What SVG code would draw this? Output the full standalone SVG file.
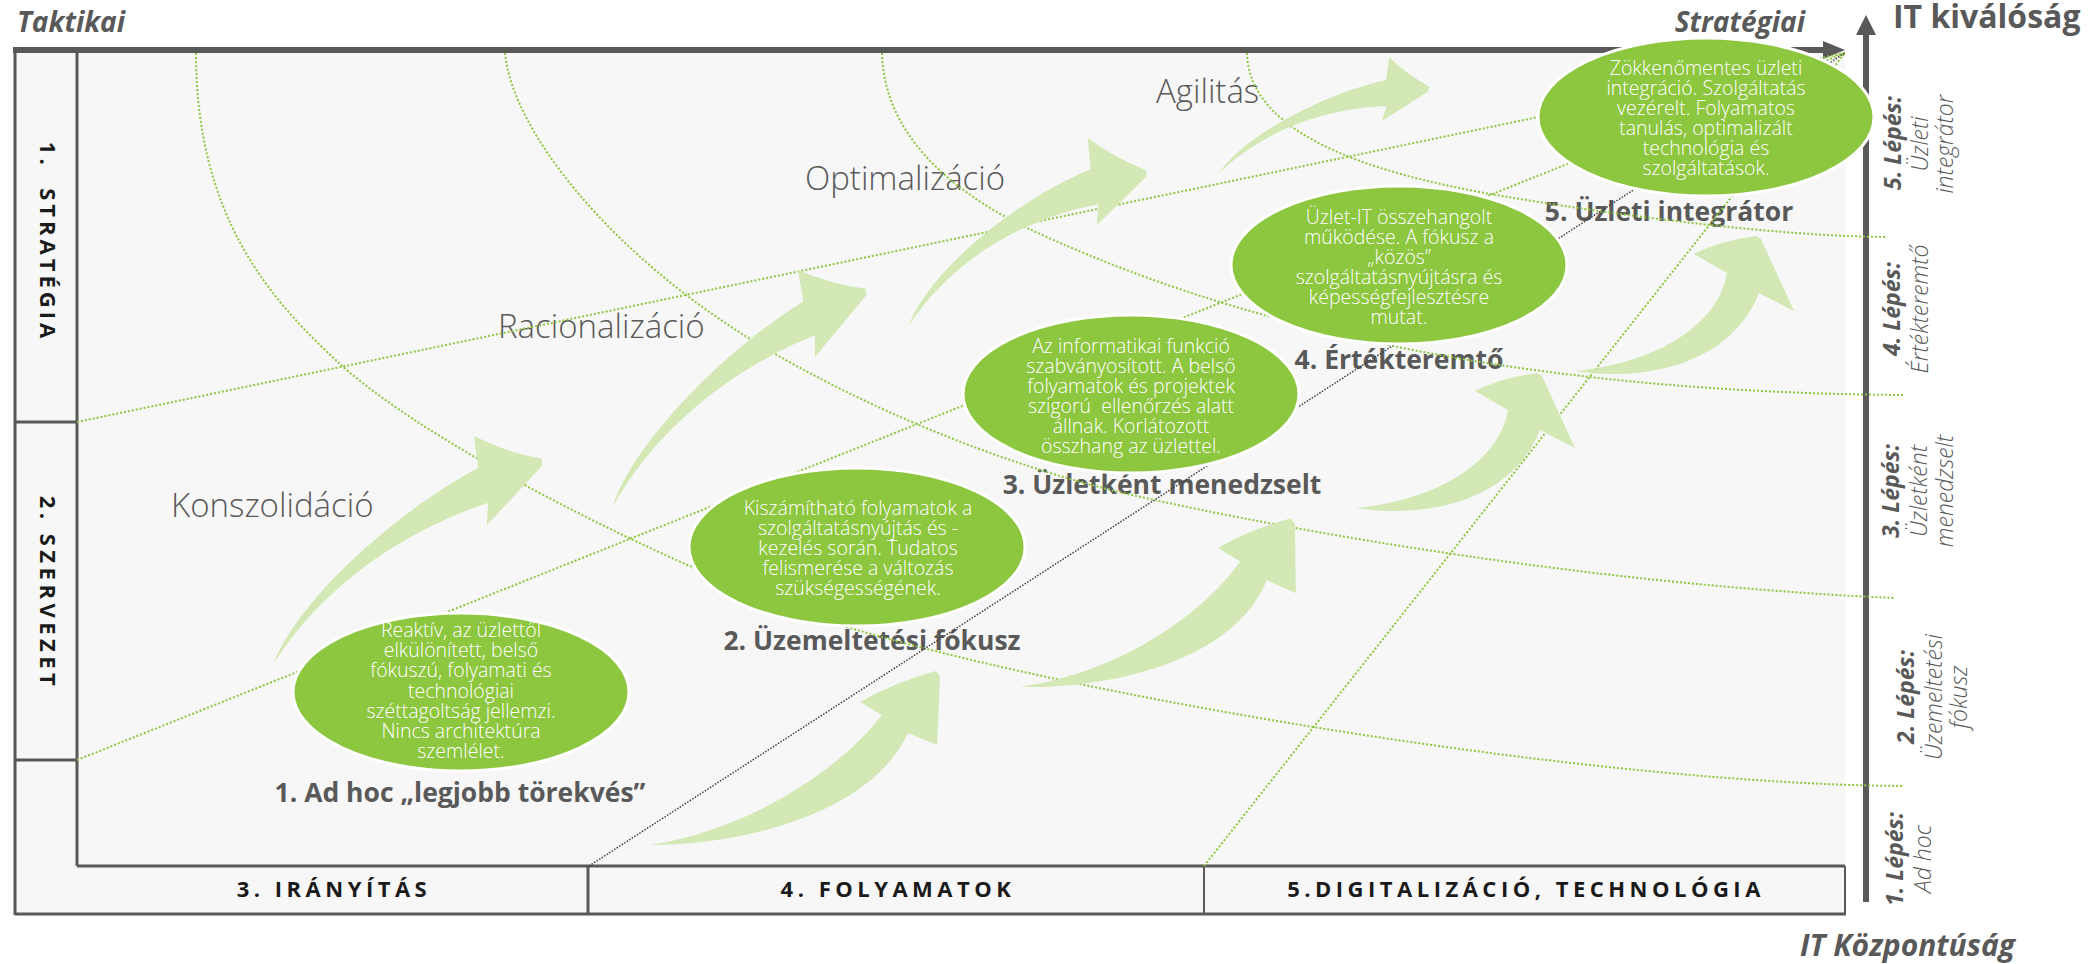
<svg xmlns="http://www.w3.org/2000/svg" width="2098" height="964" viewBox="0 0 2098 964">
<defs>
<style>
text{font-family:"Open Sans","Liberation Sans",sans-serif}
.fr{stroke:#595959;stroke-width:3;fill:none}
.ax{stroke:#595959;stroke-width:6;fill:none}
.axh{fill:#595959}
.dot{stroke:#8dc63f;stroke-width:2;fill:none;stroke-dasharray:2 2}
.blk{stroke:#404040;stroke-width:1.5;fill:none;stroke-dasharray:1.5 1.5}
.arr{fill:#d3e8b4}
.ell{fill:#8dc63f;stroke:#ffffff;stroke-width:3}
.et{font-size:19.5px;font-weight:300;fill:#ffffff;text-anchor:middle}
.lbl{font-size:26.5px;font-weight:700;fill:#595959;text-anchor:middle}
.ph{font-size:33px;font-weight:300;fill:#595959}
.col{font-size:22px;font-weight:700;fill:#1a1a1a;letter-spacing:4.5px;text-anchor:middle}
.ttl{font-size:28px;font-weight:700;font-style:italic;fill:#595959}
.stp{font-size:23px;font-weight:300;font-style:italic;fill:#595959;text-anchor:middle}
.stb{font-weight:700}
</style>
<path id="upA" d="M274,663 C295,605 390,515 478,468 L474,436 Q505,452 542,459 L542,466 L487,525 L488,503 C420,525 330,575 274,663 Z"/>
<path id="loA" d="M650,845 C740,845 870,815 908,733 L937,745 L940,676 L936,671 Q895,682 860,702 L882,715 C835,775 745,830 650,845 Z"/>
<path id="loB" d="M1356,508 C1420,518 1510,505 1540,430 L1575,448 L1542,376 L1537,373 Q1500,378 1475,391 L1508,410 C1500,460 1440,500 1356,508 Z"/>
</defs>

<g id="frame">
<rect x="15" y="50" width="1830" height="864" fill="#f7f7f7"/>
<line class="fr" x1="15" y1="50" x2="15" y2="915"/>
<line class="fr" x1="77" y1="50" x2="77" y2="866"/>
<line class="fr" x1="15" y1="422" x2="77" y2="422"/>
<line class="fr" x1="15" y1="760" x2="77" y2="760"/>
<line class="fr" x1="77" y1="866" x2="1845" y2="866"/>
<line class="fr" x1="15" y1="914" x2="1846" y2="914"/>
<line class="fr" x1="1845" y1="866" x2="1845" y2="914" style="stroke-width:2"/>
<line class="fr" x1="588" y1="866" x2="588" y2="914"/>
<line class="fr" x1="1204" y1="866" x2="1204" y2="914" style="stroke-width:2"/>
<line class="ax" x1="13" y1="50" x2="1828" y2="50"/>
<polygon class="axh" points="1823,41 1845,50 1823,59"/>
<line class="ax" x1="1866" y1="33" x2="1866" y2="902"/>
<polygon class="axh" points="1856,35 1866,15 1876,35"/>
</g>

<g id="axis-labels">
<text class="ttl" x="17" y="32">Taktikai</text>
<text class="ttl" x="1805" y="32" text-anchor="end">Stratégiai</text>
<text x="1893" y="28" style="font-size:32px;font-weight:700;fill:#595959">IT kiválóság</text>
<text class="ttl" x="2015" y="956" text-anchor="end" style="font-size:30px">IT Központúság</text>
<text class="col" transform="rotate(90)" x="242" y="-40" xml:space="preserve" style="letter-spacing:4px">1.  STRATÉGIA</text>
<text class="col" transform="rotate(90)" x="593" y="-40">2. SZERVEZET</text>
<text class="col" x="334" y="897">3. IRÁNYÍTÁS</text>
<text class="col" x="898" y="897">4. FOLYAMATOK</text>
<text class="col" x="1526" y="897">5.DIGITALIZÁCIÓ, TECHNOLÓGIA</text>
</g>

<g id="steps">
<text class="stp" transform="rotate(-90)"><tspan class="stb" x="-143" y="1901">5. Lépés:</tspan><tspan x="-144" y="1928">Üzleti</tspan><tspan x="-144" y="1953">integrátor</tspan></text>
<text class="stp" transform="rotate(-90)"><tspan class="stb" x="-309" y="1900">4. Lépés:</tspan><tspan x="-309" y="1928">Értékteremtő</tspan></text>
<text class="stp" transform="rotate(-90)"><tspan class="stb" x="-491" y="1899">3. Lépés:</tspan><tspan x="-491" y="1927">Üzletként</tspan><tspan x="-491" y="1953">menedzselt</tspan></text>
<text class="stp" transform="rotate(-90)"><tspan class="stb" x="-697" y="1914">2. Lépés:</tspan><tspan x="-697" y="1942">Üzemeltetési</tspan><tspan x="-697" y="1967">fókusz</tspan></text>
<text class="stp" transform="rotate(-90)"><tspan class="stb" x="-859" y="1903">1. Lépés:</tspan><tspan x="-859" y="1931">Ad hoc</tspan></text>
</g>

<g id="phases">
<text class="ph" x="171" y="517">Konszolidáció</text>
<text class="ph" x="498" y="338">Racionalizáció</text>
<text class="ph" x="805" y="190">Optimalizáció</text>
<text class="ph" x="1156" y="103">Agilitás</text>
</g>

<g id="labels">
<text class="lbl" x="460" y="802">1. Ad hoc „legjobb törekvés”</text>
<text class="lbl" x="872" y="650">2. Üzemeltetési fókusz</text>
<text class="lbl" x="1162" y="494">3. Üzletként menedzselt</text>
<text class="lbl" x="1399" y="369">4. Értékteremtő</text>
<text class="lbl" x="1669" y="221">5. Üzleti integrátor</text>
</g>

<g id="connectors">
<path class="dot" d="M196,53 C196,215 269,299 339,363 C439,455 720,590 857,630 C1104,702 1600,784 1903,786"/>
<path class="dot" d="M505,53 C512,130 610,255 760,345 C860,405 1000,465 1132,495 C1300,533 1600,585 1894,598"/>
<path class="dot" d="M882,53 C884,140 960,195 1025,227 C1180,300 1450,392 1903,395"/>
<path class="dot" d="M1247,53 C1249,140 1388,177 1508,197 C1628,217 1780,236 1885,237"/>
<line class="dot" x1="77" y1="422" x2="1845" y2="53"/>
<line class="dot" x1="77" y1="760" x2="1845" y2="53"/>
<line class="dot" x1="1204" y1="866" x2="1845" y2="53"/>
<line class="blk" x1="589" y1="866" x2="1845" y2="53"/>
</g>

<g id="arrows">
<use href="#upA" class="arr"/>
<use href="#upA" class="arr" transform="matrix(0.979,-0.0605,0.048,0.986,313,-131.1)"/>
<use href="#upA" class="arr" transform="matrix(0.866,0.1497,-0.0254,0.9557,688.5,-349.6)"/>
<use href="#upA" class="arr" transform="matrix(0.6526,0.2026,-0.174,0.6895,1155.6,-339.6)"/>
<use href="#loA" class="arr"/>
<use href="#loA" class="arr" transform="matrix(0.981,0.0229,0.0566,1.0056,334.5,-177.6)"/>
<use href="#loB" class="arr"/>
<use href="#loB" class="arr" transform="translate(219,-137)"/>
</g>

<g id="node1">
<ellipse class="ell" cx="461" cy="692" rx="168" ry="79"/>
<text class="et"><tspan x="461" y="637">Reaktív, az üzlettől</tspan><tspan x="461" y="657.2">elkülönített, belső</tspan><tspan x="461" y="677.4">fókuszú, folyamati és</tspan><tspan x="461" y="697.6">technológiai</tspan><tspan x="461" y="717.8">széttagoltság jellemzi.</tspan><tspan x="461" y="738">Nincs architektúra</tspan><tspan x="461" y="758.2">szemlélet.</tspan></text>
</g>
<g id="node2">
<ellipse class="ell" cx="857" cy="547" rx="168" ry="79"/>
<text class="et"><tspan x="858" y="515">Kiszámítható folyamatok a</tspan><tspan x="858" y="535">szolgáltatásnyújtás és -</tspan><tspan x="858" y="555">kezelés során. Tudatos</tspan><tspan x="858" y="575">felismerése a változás</tspan><tspan x="858" y="595">szükségességének.</tspan></text>
</g>
<g id="node3">
<ellipse class="ell" cx="1131" cy="394" rx="168" ry="79"/>
<text class="et" xml:space="preserve"><tspan x="1131" y="353">Az informatikai funkció</tspan><tspan x="1131" y="373">szabványosított. A belső</tspan><tspan x="1131" y="393">folyamatok és projektek</tspan><tspan x="1131" y="413">szigorú  ellenőrzés alatt</tspan><tspan x="1131" y="433">állnak. Korlátozott</tspan><tspan x="1131" y="453">összhang az üzlettel.</tspan></text>
</g>
<g id="node4">
<ellipse class="ell" cx="1399" cy="265" rx="168" ry="79"/>
<text class="et"><tspan x="1399" y="224">Üzlet-IT összehangolt</tspan><tspan x="1399" y="244">működése. A fókusz a</tspan><tspan x="1399" y="264">„közös”</tspan><tspan x="1399" y="284">szolgáltatásnyújtásra és</tspan><tspan x="1399" y="304">képességfejlesztésre</tspan><tspan x="1399" y="324">mutat.</tspan></text>
</g>
<g id="node5">
<ellipse class="ell" cx="1706" cy="117" rx="168" ry="79"/>
<text class="et"><tspan x="1706" y="75">Zökkenőmentes üzleti</tspan><tspan x="1706" y="95">integráció. Szolgáltatás</tspan><tspan x="1706" y="115">vezérelt. Folyamatos</tspan><tspan x="1706" y="135">tanulás, optimalizált</tspan><tspan x="1706" y="155">technológia és</tspan><tspan x="1706" y="175">szolgáltatások.</tspan></text>
</g>
</svg>
